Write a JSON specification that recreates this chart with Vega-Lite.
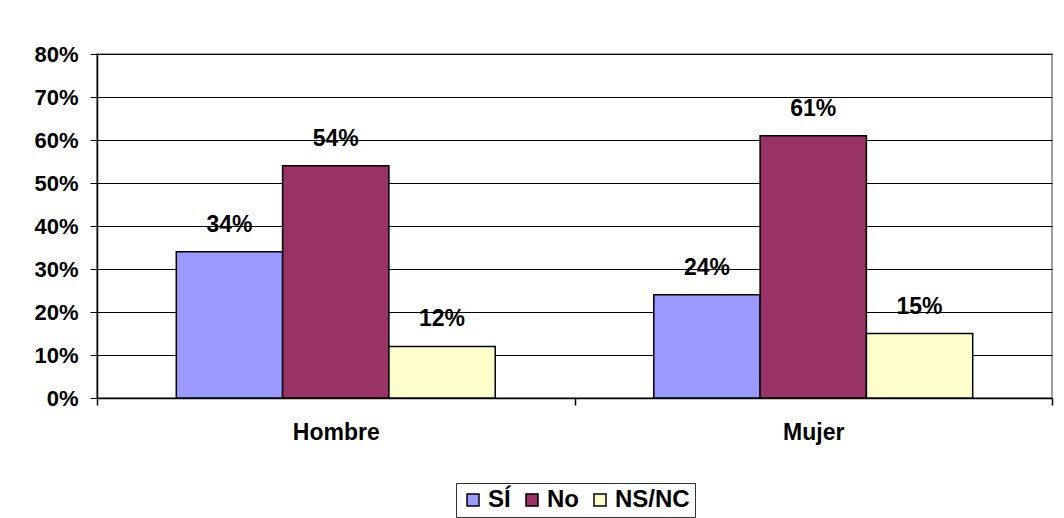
{
  "$schema": "https://vega.github.io/schema/vega-lite/v6.json",
  "width": 955,
  "height": 344,
  "autosize": "none",
  "padding": {"left": 97, "top": 54, "right": 12, "bottom": 120},
  "background": "white",
  "config": {
    "view": {"stroke": "#808080", "strokeWidth": 1.5},
    "font": "Liberation Sans"
  },
  "data": {
    "values": [
      {"sexo": "Hombre", "resp": "SÍ", "v": 0.34},
      {"sexo": "Hombre", "resp": "No", "v": 0.54},
      {"sexo": "Hombre", "resp": "NS/NC", "v": 0.12},
      {"sexo": "Mujer", "resp": "SÍ", "v": 0.24},
      {"sexo": "Mujer", "resp": "No", "v": 0.61},
      {"sexo": "Mujer", "resp": "NS/NC", "v": 0.15}
    ]
  },
  "encoding": {
    "x": {
      "field": "sexo",
      "type": "nominal",
      "sort": ["Hombre", "Mujer"],
      "scale": {"paddingInner": 0, "paddingOuter": 0},
      "axis": {
        "title": null,
        "labelAngle": 0,
        "tickBand": "extent",
        "tickSize": 7,
        "tickColor": "black",
        "tickWidth": 1.5,
        "domainColor": "black",
        "domainWidth": 1.5,
        "labelPadding": 16,
        "labelFont": "Liberation Sans",
        "labelFontSize": 23,
        "labelFontWeight": "bold",
        "labelColor": "black",
        "grid": false
      }
    },
    "xOffset": {
      "field": "resp",
      "type": "nominal",
      "sort": ["SÍ", "No", "NS/NC"],
      "scale": {"paddingInner": 0, "paddingOuter": 0.746}
    },
    "y": {
      "field": "v",
      "type": "quantitative",
      "scale": {"domain": [0, 0.8], "nice": false},
      "axis": {
        "title": null,
        "values": [0, 0.1, 0.2, 0.3, 0.4, 0.5, 0.6, 0.7, 0.8],
        "format": ".0%",
        "grid": true,
        "gridColor": "black",
        "gridWidth": 1,
        "gridOpacity": 1,
        "tickSize": 7,
        "tickColor": "black",
        "tickWidth": 1,
        "domainColor": "black",
        "domainWidth": 1.5,
        "labelPadding": 12,
        "labelFont": "Liberation Sans",
        "labelFontSize": 22,
        "labelFontWeight": "bold",
        "labelColor": "black"
      }
    }
  },
  "layer": [
    {
      "mark": {"type": "bar", "stroke": "black", "strokeWidth": 1.5},
      "encoding": {
        "color": {
          "field": "resp",
          "type": "nominal",
          "sort": ["SÍ", "No", "NS/NC"],
          "scale": {"domain": ["SÍ", "No", "NS/NC"], "range": ["#9999FF", "#993366", "#FFFFCC"]},
          "legend": {
            "title": null,
            "orient": "none",
            "direction": "horizontal",
            "legendX": 359,
            "legendY": 429,
            "symbolType": "square",
            "symbolSize": 144,
            "symbolStrokeColor": "black",
            "symbolStrokeWidth": 1.5,
            "symbolOpacity": 1,
            "labelFont": "Liberation Sans",
            "labelFontSize": 24,
            "labelFontWeight": "bold",
            "labelColor": "black",
            "labelOffset": 3,
            "columnPadding": 9,
            "padding": 5,
            "strokeColor": "#333333",
            "fillColor": "white"
          }
        }
      }
    },
    {
      "mark": {
        "type": "text",
        "baseline": "middle",
        "dy": -27,
        "font": "Liberation Sans",
        "fontSize": 23,
        "fontWeight": "bold",
        "color": "black"
      },
      "encoding": {
        "text": {"field": "v", "type": "quantitative", "format": ".0%"}
      }
    }
  ]
}
